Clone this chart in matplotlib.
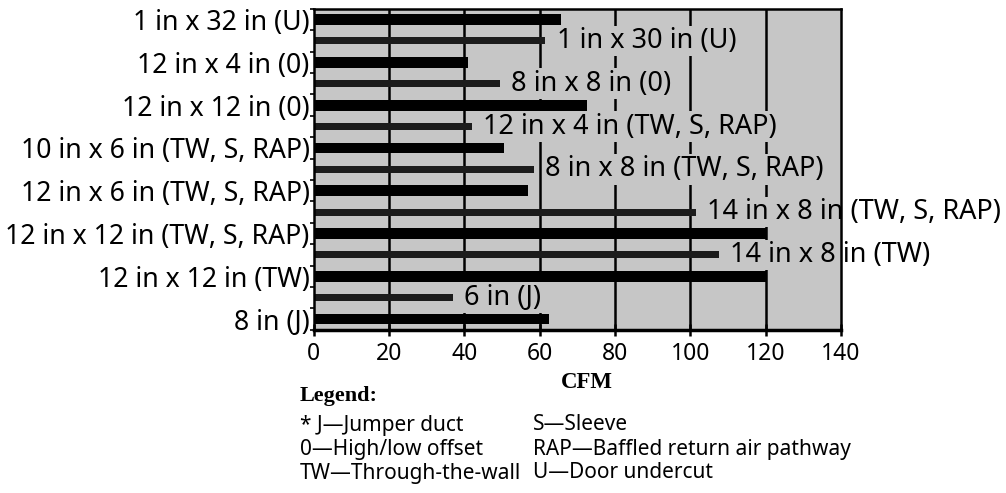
import numpy as np
import matplotlib
matplotlib.use("Agg")
import matplotlib.pyplot as plt

plt.rcParams['font.family'] = ['Noto Sans', 'DejaVu Sans']

# opening sizes labelled on the axis (solid bars)
axis_labels = ["1 in x 32 in (U)", "12 in x 4 in (0)", "12 in x 12 in (0)",
               "10 in x 6 in (TW, S, RAP)", "12 in x 6 in (TW, S, RAP)",
               "12 in x 12 in (TW, S, RAP)", "12 in x 12 in (TW)", "8 in (J)"]
axis_cfm = [65.5, 41, 72.5, 50.5, 57, 120, 120, 62.5]

# opening sizes labelled next to the bar (thin bars)
inline_labels = ["1 in x 30 in (U)", "8 in x 8 in (0)", "12 in x 4 in (TW, S, RAP)",
                 "8 in x 8 in (TW, S, RAP)", "14 in x 8 in (TW, S, RAP)",
                 "14 in x 8 in (TW)", "6 in (J)"]
inline_cfm = [61.5, 49.5, 42, 58.5, 101.5, 107.5, 37]

xticks = [0, 20, 40, 60, 80, 100, 120, 140]

legend_col1 = ["* J\u2014Jumper duct", "0\u2014High/low offset", "TW\u2014Through-the-wall"]
legend_col2 = ["S\u2014Sleeve", "RAP\u2014Baffled return air pathway", "U\u2014Door undercut"]

bg = '#c6c6c6'
serif = ['Liberation Serif', 'DejaVu Serif']

fig = plt.figure(figsize=(10.06, 4.93), dpi=100)
ax = fig.add_axes([0.312, 0.331, 0.524, 0.651])
ax.set_facecolor(bg)

pos_axis = np.arange(len(axis_cfm)) * 2
pos_inline = np.arange(len(inline_cfm)) * 2 + 1

for x in xticks[1:-1]:
    ax.axvline(x, color='black', lw=1.8, zorder=1)

ax.barh(pos_axis, axis_cfm, height=0.5, color='black', zorder=3)
ax.barh(pos_inline, inline_cfm, height=0.33, color='#1c1c1c', zorder=3)

for y, v, lab in zip(pos_inline, inline_cfm, inline_labels):
    t = ax.annotate(lab, (v, y), xytext=(8, 0), textcoords='offset points',
                    va='center', ha='left', fontsize=19.5, zorder=4,
                    bbox=dict(boxstyle='square,pad=0.05', fc=bg, ec='none'))
    # keep the masking box inside the plot area
    t.get_bbox_patch().set_clip_path(ax.patch)

ax.set_xlim(0, 140)
ax.set_ylim(14.5, -0.5)
ax.set_xticks(xticks)
ax.set_xticklabels([str(t) for t in xticks], fontsize=16.5)
ax.set_yticks(pos_axis)
ax.set_yticklabels(axis_labels, fontsize=19.2)
ax.set_yticks(np.arange(-0.5, 15, 1), minor=True)
ax.tick_params(axis='x', direction='inout', length=9, width=1.8, pad=4)
ax.tick_params(axis='y', which='major', length=0, pad=3)
ax.tick_params(axis='y', which='minor', direction='out', length=3, width=1.2)
for s in ax.spines.values():
    s.set_linewidth(1.8)
    s.set_zorder(5)
ax.spines['bottom'].set_linewidth(2.5)

fig.text(587 / 1006, 1 - 383 / 493, "CFM", fontsize=16.5, fontweight='bold',
         family=serif, va='center', ha='center')

fig.text(300 / 1006, 1 - 396 / 493, "Legend:", fontsize=16, fontweight='bold',
         family=serif, va='center', ha='left')
for i, (a, b) in enumerate(zip(legend_col1, legend_col2)):
    yy = 1 - (425 + i * 24) / 493
    fig.text(300 / 1006, yy, a, fontsize=15, va='center', ha='left')
    fig.text(533 / 1006, yy, b, fontsize=15, va='center', ha='left')

fig.savefig("out.png", dpi=100)
